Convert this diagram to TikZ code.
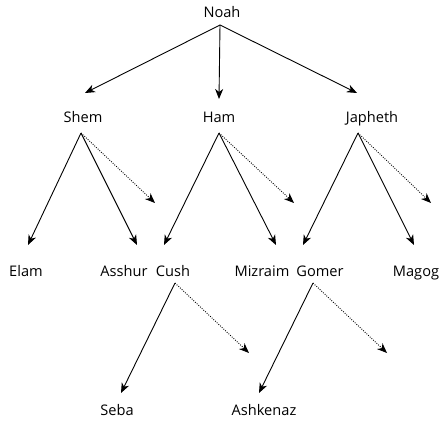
\documentclass[tikz,border=0pt]{standalone}
\usepackage{fontspec}
\setmainfont{Open Sans}
\usetikzlibrary{arrows.meta}
\begin{document}
\begin{tikzpicture}[x=1pt,y=-1pt,
  person/.style={inner sep=0pt, anchor=base, font=\fontsize{14.6}{17}\selectfont},
  child/.style={line width=0.9pt, -{Stealth[length=10pt,width=8pt,inset=3pt]}},
  further/.style={child, dash pattern=on 0.9pt off 1.4pt}]
\useasboundingbox (0,0) rectangle (444,420);

% names, placed on their baselines
\node[person] (noah)     at (222,18)  {Noah};
\node[person] (shem)     at (83,122)  {Shem};
\node[person] (ham)      at (219,122) {Ham};
\node[person] (japheth)  at (372,122) {Japheth};
\node[person] (elam)     at (26,276)  {Elam};
\node[person] (asshur)   at (124,276) {Asshur};
\node[person] (cush)     at (173,276) {Cush};
\node[person] (mizraim)  at (262,276) {Mizraim};
\node[person] (gomer)    at (320,276) {Gomer};
\node[person] (magog)    at (416,276) {Magog};
\node[person] (seba)     at (117,415) {Seba};
\node[person] (ashkenaz) at (264,415) {Ashkenaz};

% where the lines leave each parent
\coordinate (noah-out)    at (220,25);
\coordinate (shem-out)    at (81,133);
\coordinate (ham-out)     at (219,133);
\coordinate (japheth-out) at (358,133);
\coordinate (cush-out)    at (175,283);
\coordinate (gomer-out)   at (313,283);

% where the lines reach each child
\coordinate (shem-in)     at (85,93);
\coordinate (ham-in)      at (219,99);
\coordinate (japheth-in)  at (357,93);
\coordinate (elam-in)     at (28,245);
\coordinate (asshur-in)   at (137,245);
\coordinate (cush-in)     at (164,245);
\coordinate (mizraim-in)  at (276,245);
\coordinate (gomer-in)    at (303,245);
\coordinate (magog-in)    at (414,245);
\coordinate (seba-in)     at (121,393);
\coordinate (ashkenaz-in) at (259,393);

% open ends of the dotted lines
\coordinate (shem-more)   at (155,203);
\coordinate (ham-more)    at (294,203);
\coordinate (japheth-more) at (431,203);
\coordinate (cush-more)   at (249,353);
\coordinate (gomer-more)  at (387,353);

\draw[child] (noah-out) -- (shem-in);
\draw[child] (noah-out) -- (ham-in);
\draw[child] (noah-out) -- (japheth-in);

\draw[child] (shem-out) -- (elam-in);
\draw[child] (shem-out) -- (asshur-in);
\draw[further] (shem-out) -- (shem-more);

\draw[child] (ham-out) -- (cush-in);
\draw[child] (ham-out) -- (mizraim-in);
\draw[further] (ham-out) -- (ham-more);

\draw[child] (japheth-out) -- (gomer-in);
\draw[child] (japheth-out) -- (magog-in);
\draw[further] (japheth-out) -- (japheth-more);

\draw[child] (cush-out) -- (seba-in);
\draw[further] (cush-out) -- (cush-more);

\draw[child] (gomer-out) -- (ashkenaz-in);
\draw[further] (gomer-out) -- (gomer-more);
\end{tikzpicture}
\end{document}
